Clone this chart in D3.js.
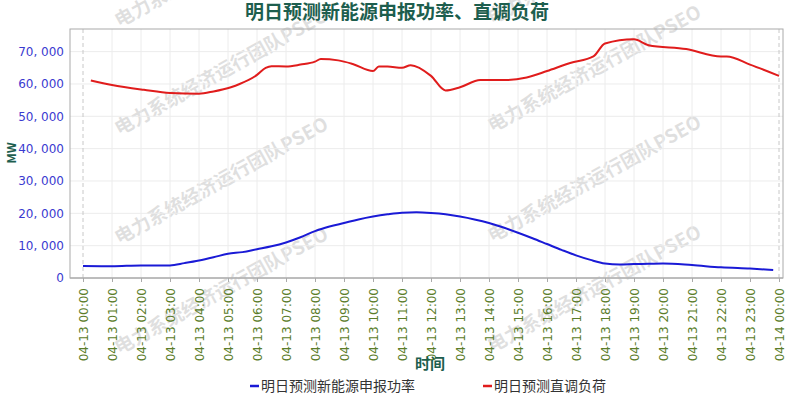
<!DOCTYPE html>
<html><head><meta charset="utf-8">
<script src="https://cdn.jsdelivr.net/npm/d3@7"></script>
<style>body{margin:0;background:#fff}svg{font-family:"Noto Sans CJK SC","DejaVu Sans",sans-serif}</style>
</head><body><svg id="c" width="800" height="400"></svg>
<script>
const tickLabels = ["04-13 00:00","04-13 01:00","04-13 02:00","04-13 03:00","04-13 04:00","04-13 05:00","04-13 06:00","04-13 07:00","04-13 08:00","04-13 09:00","04-13 10:00","04-13 11:00","04-13 12:00","04-13 13:00","04-13 14:00","04-13 15:00","04-13 16:00","04-13 17:00","04-13 18:00","04-13 19:00","04-13 20:00","04-13 21:00","04-13 22:00","04-13 23:00","04-14 00:00"];
const yTicks = [0,10000,20000,30000,40000,50000,60000,70000];
const renewHours = [0,1,2,3,3.5,4,4.5,5,5.5,6,6.5,7,7.5,8,8.5,9,9.5,10,10.5,11,11.5,12,12.5,13,13.5,14,14.5,15,15.5,16,16.5,17,17.5,18,18.5,19,19.5,20,21,22,23,23.8];
const renewVals  = [3700,3650,3900,3900,4600,5400,6400,7500,8000,8900,9800,11000,12600,14500,15900,17000,18100,19000,19700,20200,20300,20100,19700,19000,18100,17000,15600,14000,12300,10500,8700,7000,5600,4500,4200,4300,4400,4500,4000,3300,2900,2500];
const loadHours = [0.27,1,2.1,3,4,4.5,5.1,5.4,6,6.3,6.5,7,7.5,8,8.2,8.8,9.3,10,10.2,10.5,11,11.3,12,12.5,13,13.7,14.6,15.3,16,16.8,17.6,18,19,19.5,20.8,22,22.2,23,24];
const loadVals  = [61100,59700,58200,57200,57000,57700,59000,60000,62800,65000,65500,65400,66000,66900,67700,67300,66200,64000,65400,65400,65000,65800,62500,58000,59000,61200,61200,62000,64000,66500,68500,72500,73800,72000,70800,68500,68500,66000,62500];
const seriesNames = ["明日预测新能源申报功率","明日预测直调负荷"];
const colors = ["#1a1ad6","#e01c1c"];

const svg = d3.select("#c");
const L=70,R=783,T=29,B=278;
const x = d3.scaleLinear().domain([0,24]).range([83,779]);
const y = d3.scaleLinear().domain([0,77000]).range([B,T]);

const wm = svg.append("g");
[[222,-35],[222,73],[222,182],[222,292],[595,-38],[595,70],[595,180],[595,290]].forEach(([cx,cy])=>{
  wm.append("text").attr("transform",`translate(${cx},${cy}) rotate(-29)`).attr("text-anchor","middle")
    .attr("dominant-baseline","middle").attr("font-size",19).attr("font-weight","bold").attr("fill","#000").attr("opacity",0.12)
    .text("电力系统经济运行团队PSEO");
});

const g = svg.append("g");
yTicks.forEach(v=>g.append("line").attr("x1",L).attr("x2",R).attr("y1",y(v)).attr("y2",y(v)).attr("stroke","#ececec"));
d3.range(1,24).forEach(h=>g.append("line").attr("x1",x(h)).attr("x2",x(h)).attr("y1",T).attr("y2",B).attr("stroke","#ececec"));
[0,24].forEach(h=>g.append("line").attr("x1",x(h)).attr("x2",x(h)).attr("y1",T).attr("y2",B).attr("stroke","#c8c8c8").attr("stroke-dasharray","4,3"));
svg.append("rect").attr("x",L).attr("y",T).attr("width",R-L).attr("height",B-T).attr("fill","none").attr("stroke","#aaa");

const ya = svg.append("g").attr("transform",`translate(${L},0)`).call(d3.axisLeft(y).tickValues(yTicks).tickSize(0).tickPadding(6).tickFormat(v=>d3.format(",")(v).replace(",",", ")));
ya.select(".domain").remove();
ya.selectAll("text").attr("fill","#3a3ad0").attr("font-size",12).attr("font-family","DejaVu Sans, sans-serif");
const xa = svg.append("g").attr("transform",`translate(0,${B})`).call(d3.axisBottom(x).tickValues(d3.range(0,25)).tickSize(4).tickFormat(i=>tickLabels[i]));
xa.select(".domain").attr("stroke","#aaa").attr("d",`M${L},0H${R}`);
xa.selectAll("line").attr("stroke","#aaa");
xa.selectAll("text").attr("fill","#5b7d2a").attr("font-size",12).attr("font-family","DejaVu Sans, sans-serif")
  .attr("transform","rotate(-90)").attr("text-anchor","end").attr("x",-10).attr("y",0).attr("dy","0.35em");

const line = d3.line().curve(d3.curveMonotoneX);
svg.append("path").attr("d",line(renewHours.map((h,i)=>[x(h),y(renewVals[i])]))).attr("fill","none").attr("stroke",colors[0]).attr("stroke-width",2);
svg.append("path").attr("d",line(loadHours.map((h,i)=>[x(h),y(loadVals[i])]))).attr("fill","none").attr("stroke",colors[1]).attr("stroke-width",2);

svg.append("text").attr("x",397).attr("y",19).attr("text-anchor","middle").attr("font-size",19).attr("font-weight","bold").attr("fill","#1d5e4e").text("明日预测新能源申报功率、直调负荷");
svg.append("text").attr("transform","translate(16,153) rotate(-90)").attr("text-anchor","middle").attr("font-size",12).attr("font-weight","bold").attr("fill","#1d5e4e").text("MW");
svg.append("text").attr("x",430).attr("y",369).attr("text-anchor","middle").attr("font-size",15).attr("font-weight","bold").attr("fill","#1d5e4e").text("时间");

const lg = svg.append("g");
[[250,0],[483,1]].forEach(([lx,i])=>{
  lg.append("line").attr("x1",lx).attr("x2",lx+9).attr("y1",386).attr("y2",386).attr("stroke",colors[i]).attr("stroke-width",2.5);
  lg.append("text").attr("x",lx+11).attr("y",391).attr("font-size",14).attr("fill","#333").text(seriesNames[i]);
});
</script></body></html>
